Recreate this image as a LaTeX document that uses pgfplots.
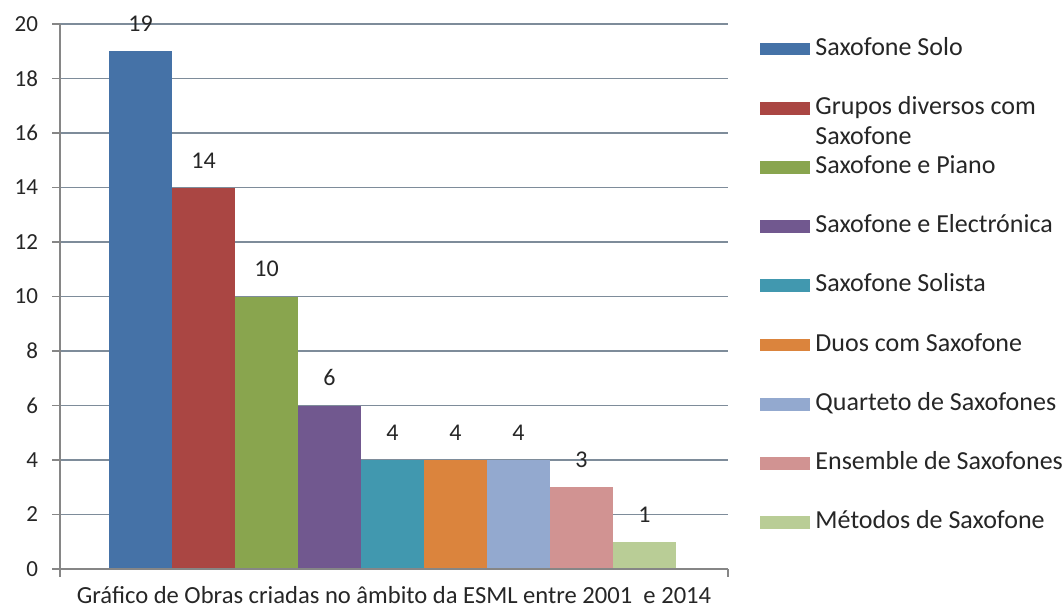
\documentclass[border=0pt]{standalone}
\usepackage{fontspec}
\setmainfont{Carlito}
\usepackage{pgfplots}
\pgfplotsset{compat=1.18}
\definecolor{c1}{HTML}{4572A7}
\definecolor{c2}{HTML}{AA4643}
\definecolor{c3}{HTML}{89A54E}
\definecolor{c4}{HTML}{71588F}
\definecolor{c5}{HTML}{4198AF}
\definecolor{c6}{HTML}{DB843D}
\definecolor{c7}{HTML}{93A9CF}
\definecolor{c8}{HTML}{D19392}
\definecolor{c9}{HTML}{B9CD96}
\definecolor{gridc}{HTML}{7E8C9A}
\definecolor{axc}{HTML}{868686}
\definecolor{txt}{HTML}{262626}
\begin{document}
\begin{tikzpicture}
\useasboundingbox (-30pt,-21.5pt) rectangle (502pt,284.5pt);
\begin{axis}[
  scale only axis,
  width=334pt, height=272.5pt,
  xmin=-1.278, xmax=9.325,
  ymin=0, ymax=20,
  ytick={0,2,...,20},
  ytick pos=left,
  xtick=\empty,
  axis line style={draw=none},
  tick style={axc, line width=0.6pt},
  tick align=outside,
  major tick length=4pt,
  ymajorgrids,
  grid style={gridc, line width=0.6pt},
  /pgf/number format/assume math mode=true,
  ticklabel style={font=\fontsize{11.5}{13}\selectfont, text=txt},
  yticklabel style={xshift=-3.5pt},
  ybar,
  nodes near coords,
  nodes near coords style={font=\fontsize{12}{14}\selectfont, text=txt, inner sep=0pt, anchor=south, yshift=9.5pt},
  xlabel={Gráfico de Obras criadas no âmbito da ESML entre 2001~ e 2014},
  xlabel style={font=\fontsize{12.3}{14}\selectfont, text=txt, yshift=-1pt},
  legend style={at={(1.048,0.975)}, anchor=north west, draw=none, fill=none,
    font=\fontsize{13}{15}\selectfont, text=txt,
    row sep=18.6pt, inner sep=0pt,
    nodes={inner sep=0pt, text height=8.5pt, text depth=2.5pt},
    /tikz/every even column/.append style={column sep=0pt}},
  legend cell align=left,
  legend image code/.code={\fill[#1] (0pt,-3.2pt) rectangle (25pt,3.2pt);},
  mybar/.style={fill=#1, draw=none, bar shift=0pt, bar width=1},
  clip=false,
  after end axis/.code={
    \draw[axc, line width=0.6pt] (rel axis cs:0,1) -- (rel axis cs:0,0) -- (rel axis cs:1,0);
    \draw[axc, line width=0.6pt] (rel axis cs:1,0) -- ++(0pt,-4pt);
    \draw[axc, line width=0.6pt] (rel axis cs:0,0) -- ++(0pt,-4pt);
    \draw[axc, line width=0.6pt] (rel axis cs:0,0) -- ++(-4pt,0pt);
  },
]
\addplot[mybar=c1] coordinates {(0,19)};
\addlegendentry{\hspace{2.5pt}Saxofone Solo}
\addplot[mybar=c2] coordinates {(1,14)};
\addlegendentry{\hspace{2.5pt}\raisebox{0pt}[8.5pt][2.5pt]{\vtop{\hbox{Grupos diversos com}\hbox{Saxofone}}}}
\addplot[mybar=c3] coordinates {(2,10)};
\addlegendentry{\hspace{2.5pt}Saxofone e Piano}
\addplot[mybar=c4] coordinates {(3,6)};
\addlegendentry{\hspace{2.5pt}Saxofone e Electrónica}
\addplot[mybar=c5] coordinates {(4,4)};
\addlegendentry{\hspace{2.5pt}Saxofone Solista}
\addplot[mybar=c6] coordinates {(5,4)};
\addlegendentry{\hspace{2.5pt}Duos com Saxofone}
\addplot[mybar=c7] coordinates {(6,4)};
\addlegendentry{\hspace{2.5pt}Quarteto de Saxofones}
\addplot[mybar=c8] coordinates {(7,3)};
\addlegendentry{\hspace{2.5pt}Ensemble de Saxofones}
\addplot[mybar=c9] coordinates {(8,1)};
\addlegendentry{\hspace{2.5pt}Métodos de Saxofone}
\end{axis}
\end{tikzpicture}
\end{document}
